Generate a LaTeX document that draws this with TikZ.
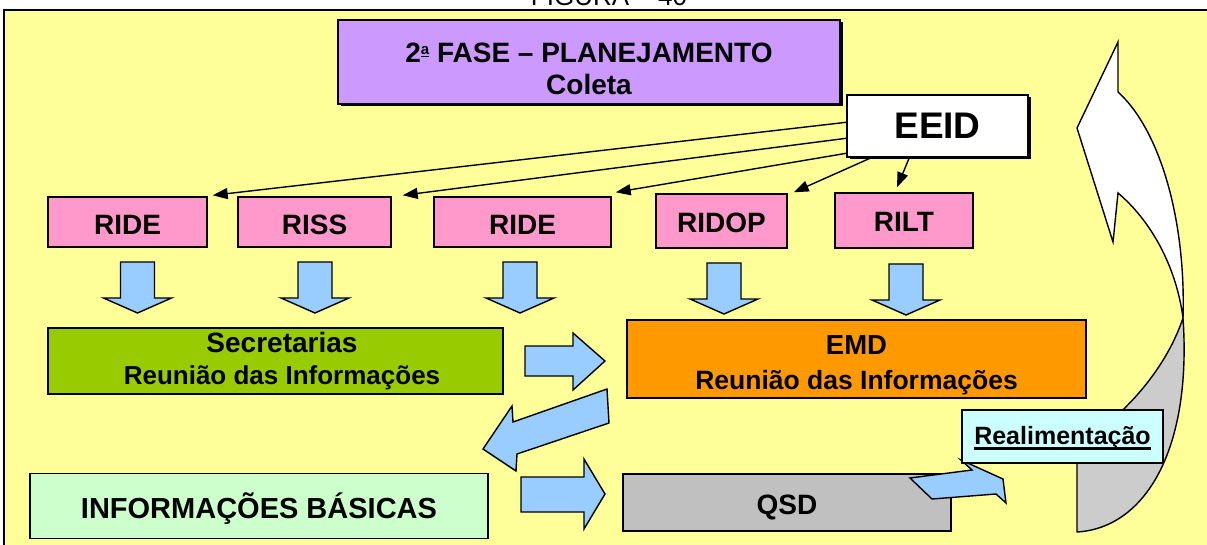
\documentclass[tikz,border=0pt]{standalone}
\usepackage{fontspec}
\setmainfont{Liberation Sans}
\usetikzlibrary{arrows.meta}
\definecolor{bgyellow}{HTML}{FFFF99}
\definecolor{purplebox}{HTML}{CC99FF}
\definecolor{pinkbox}{HTML}{FF99CC}
\definecolor{greenbox}{HTML}{99CC00}
\definecolor{orangebox}{HTML}{FF9900}
\definecolor{lgreenbox}{HTML}{CCFFCC}
\definecolor{graybox}{HTML}{C0C0C0}
\definecolor{cyanbox}{HTML}{CCFFFF}
\definecolor{bluearr}{HTML}{99CCFF}
\definecolor{backgray}{HTML}{CCCCCC}
\newcommand\lowertext[2]{\raisebox{-#1}[\height][\depth]{#2}}
\newcommand\thickunder[1]{\underline{#1}}
\tikzset{
  box/.style={draw=black, line width=1.4pt, inner sep=0pt, font=\bfseries\fontsize{28}{32}\selectfont},
  shadowed/.style={preaction={fill=black, transform canvas={shift={(2.5pt,-2.5pt)}}}},
  blockarr/.style={draw=black, line width=1.4pt, fill=bluearr, line join=miter},
  conn/.style={line width=1.4pt, -{Triangle[length=15pt,width=11pt]}},
  downarr/.pic={\draw[blockarr] (-17,0) -- (17,0) -- (17,36) -- (34,36) -- (0,51) -- (-34,36) -- (-17,36) -- cycle;}
}
\begin{document}
\begin{tikzpicture}[x=1pt,y=-1pt]
\useasboundingbox (0,0) rectangle (1207,545);
\clip (0,0) rectangle (1207,545);
\fill[white] (0,0) rectangle (1207,545);
\node[anchor=base, inner sep=0pt, font=\fontsize{26}{26}\selectfont] (fig) at (609,6) {FIGURA – 40};
\draw[fill=bgyellow, line width=2pt] (4,10) rectangle (1222,562);

% big curved return arrow
\draw[line width=1.4pt, fill=backgray, line join=round]
  (1183,318) .. controls (1165,372) and (1120,420) .. (1077,445) -- (1077,532)
  .. controls (1145,528) and (1192,450) .. (1183,318) -- cycle;
\draw[line width=1.4pt, fill=white, line join=miter]
  (1118,42) -- (1077,128) -- (1113,242) -- (1118,193)
  .. controls (1150,220) and (1176,265) .. (1183,318)
  .. controls (1186,220) and (1160,130) .. (1118,92) -- cycle;

% top boxes
\node[box, shadowed, fill=purplebox, minimum width=502pt, minimum height=84pt] (phase) at (589,62)
  {\lowertext{10pt}{\begin{tabular}{@{}c@{}}2\raisebox{8pt}{\fontsize{15}{15}\selectfont\underline{a}} FASE – PLANEJAMENTO\\Coleta\end{tabular}}};
\node[box, shadowed, fill=white, minimum width=181pt, minimum height=62pt, font=\bfseries\fontsize{37}{40}\selectfont] (eeid) at (937.5,126) {EEID};

% pink boxes
\node[box, fill=pinkbox, minimum width=159pt, minimum height=50pt] (ride1) at (127.5,222) {\lowertext{3pt}{RIDE}};
\node[box, fill=pinkbox, minimum width=153pt, minimum height=50pt] (riss) at (314.5,222) {\lowertext{3pt}{RISS}};
\node[box, fill=pinkbox, minimum width=177pt, minimum height=50pt] (ride2) at (522.5,222) {\lowertext{3pt}{RIDE}};
\node[box, fill=pinkbox, minimum width=131pt, minimum height=54pt] (ridop) at (721.5,221) {\lowertext{2pt}{RIDOP}};
\node[box, fill=pinkbox, minimum width=138pt, minimum height=55pt] (rilt) at (904,220.5) {\lowertext{1pt}{RILT}};

% connectors from EEID
\draw[conn] ([yshift=-28pt]eeid.north west) -- ([xshift=5pt,yshift=1pt]ride1.north east);
\draw[conn] ([yshift=-44pt]eeid.north west) -- ([xshift=11pt,yshift=1pt]riss.north east);
\draw[conn] ([yshift=-59pt]eeid.north west) -- ([xshift=4pt,yshift=4pt]ride2.north east);
\draw[conn] ([xshift=25pt]eeid.south west) -- ([xshift=6pt,yshift=1pt]ridop.north east);
\draw[conn] ([xshift=63pt]eeid.south west) -- ([xshift=-7pt,yshift=5pt]rilt.north);

% down block arrows
\pic at (137.5,262) {downarr};
\pic at (315,262) {downarr};
\pic at (520,262) {downarr};
\pic at (724,263) {downarr};
\pic at (906,264) {downarr};

% middle boxes
\node[box, fill=greenbox, minimum width=455pt, minimum height=66pt] (sec) at (275.5,361)
  {\lowertext{1pt}{\begin{tabular}{@{}c@{}}\hspace*{13pt}Secretarias\\\hspace*{13pt}\fontsize{26}{32}\selectfont Reunião das Informações\end{tabular}}};
\node[box, fill=orangebox, minimum width=459pt, minimum height=78pt, font=\bfseries\fontsize{27.5}{35}\selectfont] (emd) at (856.5,359)
  {\lowertext{6pt}{\begin{tabular}{@{}c@{}}EMD\\\fontsize{26.5}{35}\selectfont Reunião das Informações\end{tabular}}};

% block arrows between
\draw[blockarr] (525,346) -- (573,346) -- (573,333) -- (605,361) -- (573,390) -- (573,376) -- (525,376) -- cycle;
\draw[blockarr] (607,389) -- (513,422) -- (512,406) -- (483,449) -- (516,471) -- (517,454) -- (609,423) -- cycle;
\draw[blockarr] (521,477) -- (584,477) -- (584,459) -- (605,494) -- (584,529) -- (584,512) -- (521,512) -- cycle;

% bottom boxes
\node[box, fill=lgreenbox, minimum width=458pt, minimum height=65pt, font=\bfseries\fontsize{29}{32}\selectfont] (info) at (259,506) {\lowertext{3pt}{INFORMAÇÕES BÁSICAS}};
\node[box, fill=graybox, minimum width=328pt, minimum height=57pt] (qsd) at (787,502.5) {\lowertext{5pt}{QSD}};
\draw[blockarr] (910,478) -- (972,470) -- (961,460) -- (1003,479) -- (1006,503) -- (996,494) -- (932,499) -- cycle;
\node[box, fill=cyanbox, minimum width=201pt, minimum height=53pt, font=\bfseries\fontsize{25}{28}\selectfont] (realim) at (1062.5,436.5)
  {\lowertext{2pt}{\setbox0=\hbox{Realimentação}\rlap{\copy0}\rule[-5pt]{\wd0}{2.5pt}}};
\end{tikzpicture}
\end{document}
